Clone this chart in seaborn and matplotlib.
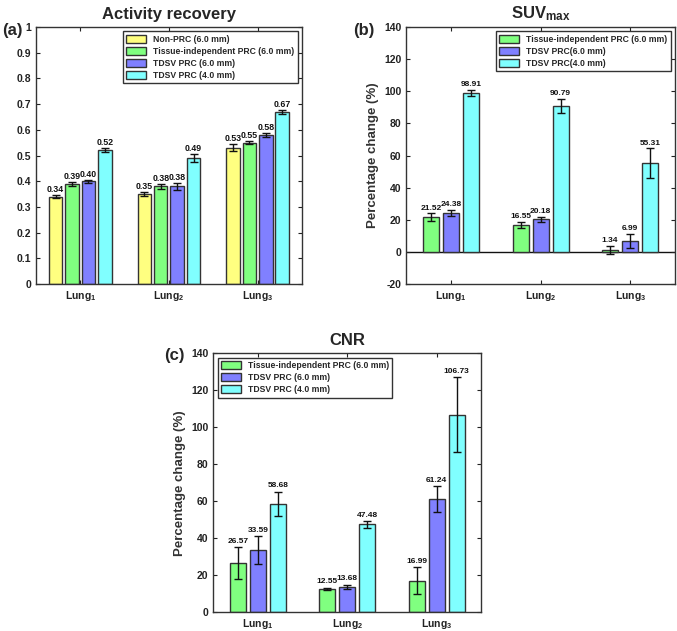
import numpy as np
import pandas as pd
import matplotlib
matplotlib.use('Agg')
import matplotlib.pyplot as plt
import seaborn as sns
from matplotlib.ticker import FuncFormatter

# data
lungs = ['Lung$_1$', 'Lung$_2$', 'Lung$_3$']

ar_methods = ['Non-PRC (6.0 mm)', 'Tissue-independent PRC (6.0 mm)',
              'TDSV PRC (6.0 mm)', 'TDSV PRC (4.0 mm)']
ar_values = [[0.34, 0.35, 0.53],
             [0.39, 0.38, 0.55],
             [0.40, 0.38, 0.58],
             [0.52, 0.49, 0.67]]
ar_errors = [[0.006, 0.008, 0.013],
             [0.007, 0.010, 0.005],
             [0.005, 0.013, 0.006],
             [0.008, 0.017, 0.008]]

suv_methods = ['Tissue-independent PRC (6.0 mm)', 'TDSV PRC(6.0 mm)', 'TDSV PRC(4.0 mm)']
suv_values = [[21.52, 16.55, 1.34],
              [24.38, 20.18, 6.99],
              [98.91, 90.79, 55.31]]
suv_errors = [[2.5, 2.0, 2.5],
              [1.8, 1.7, 4.3],
              [2.0, 4.5, 9.3]]

cnr_methods = ['Tissue-independent PRC (6.0 mm)', 'TDSV PRC (6.0 mm)', 'TDSV PRC (4.0 mm)']
cnr_values = [[26.57, 12.55, 16.99],
              [33.59, 13.68, 61.24],
              [58.68, 47.48, 106.73]]
cnr_errors = [[8.7, 0.7, 7.3],
              [7.7, 1.2, 7.0],
              [6.5, 1.8, 20.3]]

colors4 = ['#ffff80', '#80ff80', '#8080ff', '#80ffff']
colors3 = ['#80ff80', '#8080ff', '#80ffff']

sns.set_style('ticks')
plt.rcParams['font.family'] = ['Liberation Sans', 'DejaVu Sans']
plt.rcParams['mathtext.fontset'] = 'custom'
plt.rcParams['mathtext.rm'] = 'Liberation Sans:bold'
plt.rcParams['mathtext.bf'] = 'Liberation Sans:bold'
plt.rcParams['mathtext.default'] = 'bf'
plt.rcParams['axes.unicode_minus'] = False


def to_long(methods, values, errors):
    rows = []
    for m, vals, errs in zip(methods, values, errors):
        for lung, v, e in zip(lungs, vals, errs):
            rows.append({'lung': lung, 'method': m, 'value': v, 'err': e})
    return pd.DataFrame(rows)


def draw_panel(ax, methods, values, errors, palette, width, gap, label_off, label_size):
    df = to_long(methods, values, errors)
    sns.barplot(data=df, x='lung', y='value', hue='method', hue_order=methods,
                palette=palette, width=width, gap=gap, errorbar=None,
                edgecolor='#333333', linewidth=1.0, saturation=1, ax=ax)
    for cont, errs, vals in zip(ax.containers, errors, values):
        xs = [b.get_x() + b.get_width() / 2 for b in cont]
        ax.errorbar(xs, vals, yerr=errs, fmt='none', ecolor='#111111',
                    elinewidth=1.0, capsize=3, capthick=1.0, zorder=5)
        for x, v, e in zip(xs, vals, errs):
            ax.text(x, v + e + label_off, '{:.2f}'.format(v), ha='center', va='bottom',
                    fontsize=label_size, fontweight='bold', color='#111111')
    ax.set_xlabel('')
    ax.set_ylabel('')
    ax.set_xlim(-0.5, 2.5)
    ax.tick_params(direction='in', top=True, right=True, length=3,
                   labelsize=7.5, colors='#222222')
    for lbl in ax.get_xticklabels() + ax.get_yticklabels():
        lbl.set_fontweight('bold')
    for sp in ax.spines.values():
        sp.set_color('#333333')
        sp.set_linewidth(1.0)


fig = plt.figure(figsize=(6.77, 6.31), dpi=100)
ax_a = fig.add_axes([0.053, 0.550, 0.393, 0.407])
ax_b = fig.add_axes([0.600, 0.550, 0.397, 0.407])
ax_c = fig.add_axes([0.315, 0.030, 0.396, 0.410])

# (a) activity recovery
draw_panel(ax_a, ar_methods, ar_values, ar_errors, colors4, 0.74, 0.18, 0.004, 6.3)
ax_a.set_ylim(0, 1)
ax_a.set_yticks(np.arange(0, 1.01, 0.1))
ax_a.yaxis.set_major_formatter(FuncFormatter(lambda v, p: '{:g}'.format(round(v, 1))))
ax_a.set_title('Activity recovery', fontsize=12, fontweight='bold', pad=6)

# (b) SUVmax
draw_panel(ax_b, suv_methods, suv_values, suv_errors, colors3, 0.67, 0.2, 1.0, 6.0)
ax_b.set_ylim(-20, 140)
ax_b.set_yticks(np.arange(-20, 141, 20))
ax_b.axhline(0, color='#111111', linewidth=1.0, zorder=0.5)
ax_b.set_ylabel('Percentage change (%)', fontsize=9.5, fontweight='bold', color='#333333')
ax_b.set_title('SUV$_{max}$', fontsize=12, fontweight='bold', pad=6)

# (c) CNR
draw_panel(ax_c, cnr_methods, cnr_values, cnr_errors, colors3, 0.67, 0.2, 1.2, 6.0)
ax_c.set_ylim(0, 140)
ax_c.set_yticks(np.arange(0, 141, 20))
ax_c.set_ylabel('Percentage change (%)', fontsize=9.5, fontweight='bold', color='#333333')
ax_c.set_title('CNR', fontsize=12, fontweight='bold', pad=6)

legend_kw = dict(frameon=True, fancybox=False, edgecolor='#333333',
                 framealpha=1, handlelength=2.3, handleheight=1.0,
                 labelspacing=0.35, borderpad=0.4, prop={'weight': 'bold', 'size': 6.2})
for ax, loc in [(ax_a, 'upper right'), (ax_b, 'upper right'), (ax_c, 'upper left')]:
    h, l = ax.get_legend_handles_labels()
    leg = ax.legend(h, l, loc=loc, **legend_kw)
    leg.get_frame().set_linewidth(1.0)

fig.text(0.003, 0.952, '(a)', fontsize=12, fontweight='bold', va='center')
fig.text(0.522, 0.952, '(b)', fontsize=12, fontweight='bold', va='center')
fig.text(0.242, 0.437, '(c)', fontsize=12, fontweight='bold', va='center')

fig.savefig('out.png', dpi=100)
